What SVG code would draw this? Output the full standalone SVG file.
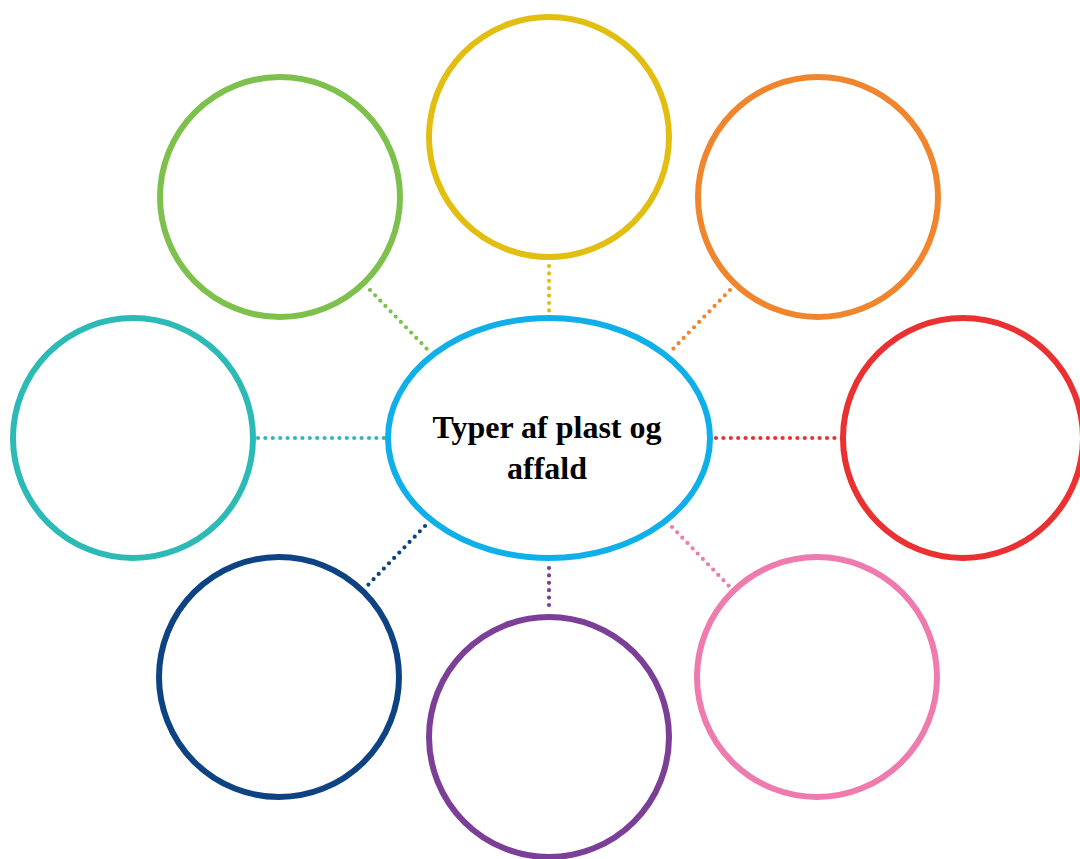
<svg xmlns="http://www.w3.org/2000/svg" width="1080" height="859" viewBox="0 0 1080 859">
<style>
.c{fill:none;stroke-width:6}
.d{fill:none;stroke-width:4.2;stroke-linecap:round;stroke-dasharray:0 7.4}
.t{font-family:"Liberation Serif",serif;font-weight:bold;font-size:32px;fill:#000;text-anchor:middle}
</style>
<rect width="1080" height="859" fill="#fff"/>
<g id="connectors">
<line class="d" x1="549" y1="266" x2="549" y2="311" stroke="#E2BE10"/>
<line class="d" x1="730" y1="290" x2="672" y2="350" stroke="#F0852D"/>
<line class="d" x1="370" y1="290" x2="428" y2="350" stroke="#7DC04C"/>
<line class="d" x1="258" y1="438" x2="384" y2="438" stroke="#2BBAB5"/>
<line class="d" x1="716" y1="438" x2="842" y2="438" stroke="#EA3030"/>
<line class="d" x1="425" y1="526" x2="367" y2="586" stroke="#0E4383"/>
<line class="d" x1="549" y1="568" x2="549" y2="612" stroke="#7B3F98"/>
<line class="d" x1="672" y1="527" x2="730" y2="587" stroke="#EE7AAE"/>
</g>
<g id="n-yellow"><circle class="c" cx="549" cy="137" r="120" stroke="#E2BE10"/></g>
<g id="n-orange"><circle class="c" cx="818" cy="197" r="120" stroke="#F0852D"/></g>
<g id="n-green"><circle class="c" cx="280" cy="197" r="120" stroke="#7DC04C"/></g>
<g id="n-teal"><circle class="c" cx="133" cy="438" r="120" stroke="#2BBAB5"/></g>
<g id="n-red"><circle class="c" cx="963" cy="438" r="120" stroke="#EA3030"/></g>
<g id="n-navy"><circle class="c" cx="279" cy="677" r="120" stroke="#0E4383"/></g>
<g id="n-purple"><circle class="c" cx="549" cy="737" r="120" stroke="#7B3F98"/></g>
<g id="n-pink"><circle class="c" cx="817" cy="677" r="120" stroke="#EE7AAE"/></g>
<g id="center">
<ellipse class="c" cx="549" cy="438" rx="161" ry="120" stroke="#0FB0EA"/>
<text class="t" x="547" y="438">Typer af plast og</text>
<text class="t" x="547" y="479">affald</text>
</g>
</svg>
